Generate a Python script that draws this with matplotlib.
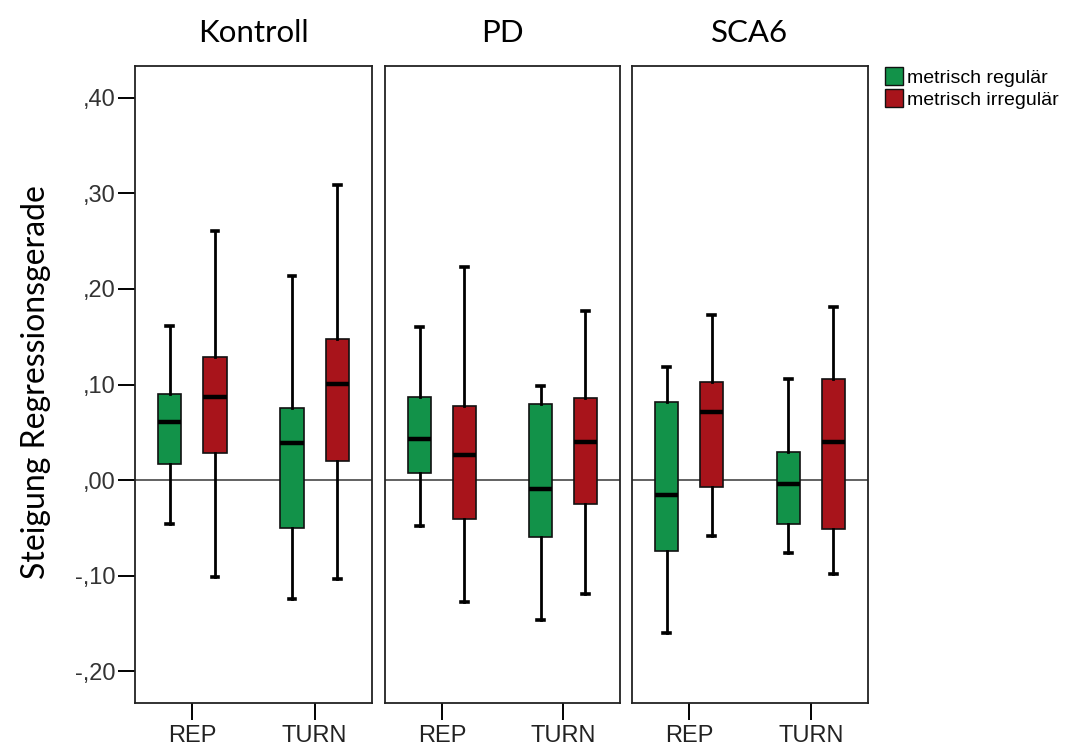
import matplotlib
matplotlib.use("Agg")
import matplotlib.pyplot as plt
from matplotlib.patches import Patch

groups = ["Kontroll", "PD", "SCA6"]
conditions = ["REP", "TURN"]
series = ["metrisch regulär", "metrisch irregulär"]

# per group: [REP, TURN]; each entry (whislo, q1, med, q3, whishi)
regular_stats = {
    "Kontroll": [(-0.046, 0.017, 0.061, 0.090, 0.161), (-0.125, -0.050, 0.039, 0.075, 0.214)],
    "PD":       [(-0.048, 0.007, 0.043, 0.087, 0.160), (-0.147, -0.060, -0.009, 0.080, 0.098)],
    "SCA6":     [(-0.160, -0.074, -0.016, 0.082, 0.118), (-0.076, -0.046, -0.004, 0.029, 0.106)],
}
irregular_stats = {
    "Kontroll": [(-0.102, 0.028, 0.087, 0.129, 0.261), (-0.104, 0.020, 0.101, 0.148, 0.309)],
    "PD":       [(-0.128, -0.041, 0.026, 0.078, 0.223), (-0.119, -0.025, 0.040, 0.086, 0.177)],
    "SCA6":     [(-0.059, -0.007, 0.071, 0.103, 0.173), (-0.098, -0.051, 0.040, 0.106, 0.181)],
}

yticks = [-0.20, -0.10, 0.00, 0.10, 0.20, 0.30, 0.40]
ytick_labels = ["-,20", "-,10", ",00", ",10", ",20", ",30", ",40"]

colors = ["#129249", "#A8141B"]

W, H = 1074, 747
fig = plt.figure(figsize=(W / 100, H / 100), dpi=100)

panels_px = [(135, 372), (385, 620), (632, 868)]
top_px, bot_px = 66, 703

label_font = "Lato"
tick_font = "Liberation Sans"

offset = 0.185
bw = 0.19

for gi, g in enumerate(groups):
    x0, x1 = panels_px[gi]
    ax = fig.add_axes([x0 / W, 1 - bot_px / H, (x1 - x0) / W, (bot_px - top_px) / H])
    ax.axhline(0, color="#555555", lw=1.3, zorder=1)
    for si, stats_d in enumerate([regular_stats, irregular_stats]):
        stats = []
        for ci, c in enumerate(conditions):
            lo, q1, med, q3, hi = stats_d[g][ci]
            stats.append(dict(whislo=lo, q1=q1, med=med, q3=q3, whishi=hi, fliers=[]))
        pos = [ci + (-offset if si == 0 else offset) for ci in range(len(conditions))]
        ax.bxp(stats, positions=pos, widths=bw, patch_artist=True, showfliers=False,
               boxprops=dict(facecolor=colors[si], edgecolor="#111111", lw=1.2),
               medianprops=dict(color="black", lw=3.2),
               whiskerprops=dict(color="black", lw=2.0),
               capprops=dict(color="black", lw=2.6),
               capwidths=0.055, zorder=3)
    ax.set_xlim(-0.47, 1.47)
    ax.set_ylim(-0.2335, 0.4335)
    ax.set_xticks(range(len(conditions)))
    ax.set_xticklabels(conditions, fontsize=17, family=tick_font, color="#222222")
    ax.tick_params(axis="x", length=12.5, width=1.4, direction="out", pad=3)
    for sp in ax.spines.values():
        sp.set_linewidth(1.3)
        sp.set_color("#222222")
    if gi == 0:
        ax.set_yticks(yticks)
        ax.set_yticklabels(ytick_labels, fontsize=17, family=tick_font, color="#333333")
        ax.tick_params(axis="y", length=12.5, width=1.4, direction="out", pad=1.5)
    else:
        ax.set_yticks([])
    ax.set_title(g, fontsize=22.5, family=label_font, pad=17)

fig.text(36 / W, 1 - 382 / H, "Steigung Regressionsgerade", rotation=90,
         fontsize=23, family=label_font, ha="center", va="center")

handles = [Patch(facecolor=colors[i], edgecolor="#111111", lw=1.0, label=series[i])
           for i in range(len(series))]
fig.legend(handles=handles, loc="upper left", bbox_to_anchor=(885 / W, 1 - 67 / H),
           frameon=False, prop={"family": tick_font, "size": 14},
           handlelength=0.95, handleheight=1.05, handletextpad=0.2, labelspacing=0.12,
           borderaxespad=0, borderpad=0)

fig.savefig("out.png", dpi=100)
